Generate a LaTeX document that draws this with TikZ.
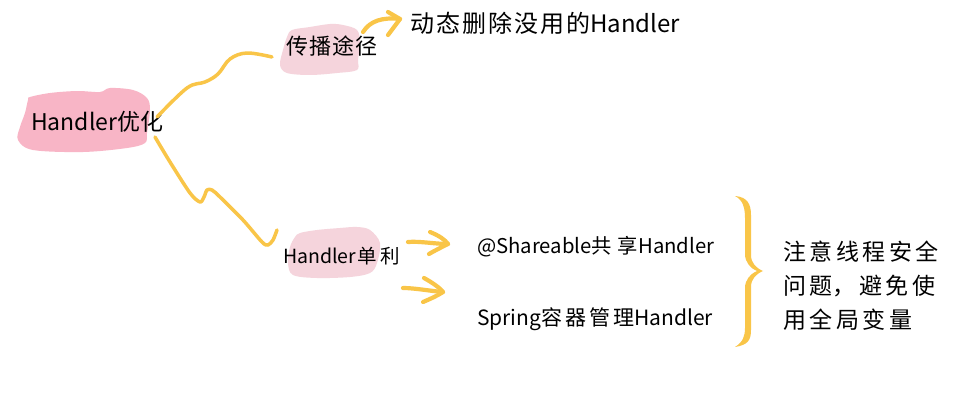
\documentclass[tikz,border=0pt]{standalone}
\usepackage{fontspec}
\setmainfont{Noto Sans CJK SC}
\definecolor{cy}{RGB}{249,197,72}
\definecolor{pinkA}{RGB}{248,181,198}
\definecolor{pinkB}{RGB}{245,212,220}
\newcommand\chgap{\hspace{3.5pt}}
\newcommand\smgap{\hspace{2pt}}
\begin{document}
\begin{tikzpicture}[x=1pt,y=-1pt,
  conn/.style={draw=cy, line width=3.5pt, line cap=round, line join=round},
  arr/.style={draw=cy, line width=4.2pt, line cap=round, line join=round},
  lbl/.style={inner sep=0pt, text=black},
  blobA/.style={fill=pinkA},
  blobB/.style={fill=pinkB},
]
\useasboundingbox (0,0) rectangle (969,404);
\fill[white] (0,0) rectangle (969,404);

% blobs
\fill[blobA] plot[smooth cycle, tension=0.55] coordinates {(30,97) (50,93) (77,91) (100,92) (110,88) (133,90) (147,98) (150,110) (147,133) (145,143) (127,148) (83,152) (33,150) (18,140) (20,127) (25,113) (28,100)};
\fill[blobB] plot[smooth cycle, tension=0.55] coordinates {(292,30) (310,27) (330,24) (343,25) (357,30) (360,43) (358,60) (357,70) (337,73) (310,75) (287,73) (280,65) (283,50) (287,37)};
\fill[blobB] plot[smooth cycle, tension=0.55] coordinates {(300,233) (317,230) (340,228) (357,227) (370,230) (380,243) (377,263) (370,273) (350,277) (317,278) (293,275) (288,263) (290,247) (295,237)};

% labels
\node[lbl, anchor=base west, font=\fontsize{23}{28}\selectfont] (root) at (31,130) {Handler优化};
\node[lbl, anchor=base west, font=\fontsize{22}{26}\selectfont] (path) at (286,55) {传\hspace{1pt}播\hspace{1pt}途\hspace{1pt}径};
\node[lbl, anchor=base west, font=\fontsize{24}{28}\selectfont] (del) at (410,33) {动\smgap 态\smgap 删\smgap 除\smgap 没\smgap 用\smgap 的Handler};
\node[lbl, anchor=base west, font=\fontsize{19.5}{24}\selectfont] (single) at (283,263) {Handler\hspace{1pt}单\hspace{4pt}利};
\node[lbl, anchor=base west, font=\fontsize{20.3}{25}\selectfont] (share) at (477,253) {@Shareable共\hspace{5pt}享\hspace{1pt}Handler};
\node[lbl, anchor=base west, font=\fontsize{21}{25}\selectfont] (spring) at (477,325) {Spring容\hspace{3pt}器\hspace{3pt}管\hspace{3pt}理Handler};
\node[lbl, anchor=north west, align=left, font=\fontsize{23}{34}\selectfont] (note) at (783,241)
  {注\chgap 意\chgap 线\chgap 程\chgap 安\chgap 全\\问\chgap 题，\chgap 避\chgap 免\chgap 使\\用\chgap 全\chgap 局\chgap 变\chgap 量};

% connector endpoints
\coordinate (rootUp) at (157,117);
\coordinate (rootDn) at (155,137);
\coordinate (pathIn) at (272,57);
\coordinate (singleIn) at (277,230);
\coordinate (pathOut) at (363,32);
\coordinate (delTip) at (400,19);
\coordinate (s1) at (408,242);
\coordinate (t1) at (448,244);
\coordinate (s2) at (403,288);
\coordinate (t2) at (443,292);

% connectors
\draw[conn] plot[smooth, tension=0.6] coordinates {(rootUp) (187,88) (205,82) (218,74) (230,59) (247,53) (pathIn)};
\draw[conn] plot[smooth, tension=0.5] coordinates {(rootDn) (170,162) (190,193) (200,202) (204,197) (207,190) (212,190) (220,197) (243,220) (262,242) (268,245) (273,240) (singleIn)};

% arrows
\draw[arr] (pathOut) .. controls (370,21) and (382,17) .. (delTip);
\draw[arr] (388,12) -- (delTip) -- (388,35);
\draw[arr] (s1) .. controls (420,241) and (435,244) .. (t1);
\draw[arr] (430,232) .. controls (440,236) and (445,240) .. (t1) .. controls (440,248) and (434,251) .. (429,254);
\draw[arr] (s2) .. controls (415,288) and (430,291) .. (t2);
\draw[arr] (424,278) .. controls (433,283) and (440,288) .. (t2) .. controls (437,296) and (430,299) .. (423,302);

% brace
\fill[cy] (735,196) .. controls (748,197) and (751,205) .. (751,215) -- (751,255)
  .. controls (751,263) and (756,268) .. (763,271)
  .. controls (756,274) and (751,279) .. (751,287) -- (751,330)
  .. controls (751,340) and (748,345) .. (735,347)
  .. controls (743,342) and (745,336) .. (745,328) -- (745,288)
  .. controls (745,280) and (750,274) .. (757,271)
  .. controls (750,268) and (745,262) .. (745,254) -- (745,218)
  .. controls (745,208) and (743,200) .. (735,196) -- cycle;
\end{tikzpicture}
\end{document}
